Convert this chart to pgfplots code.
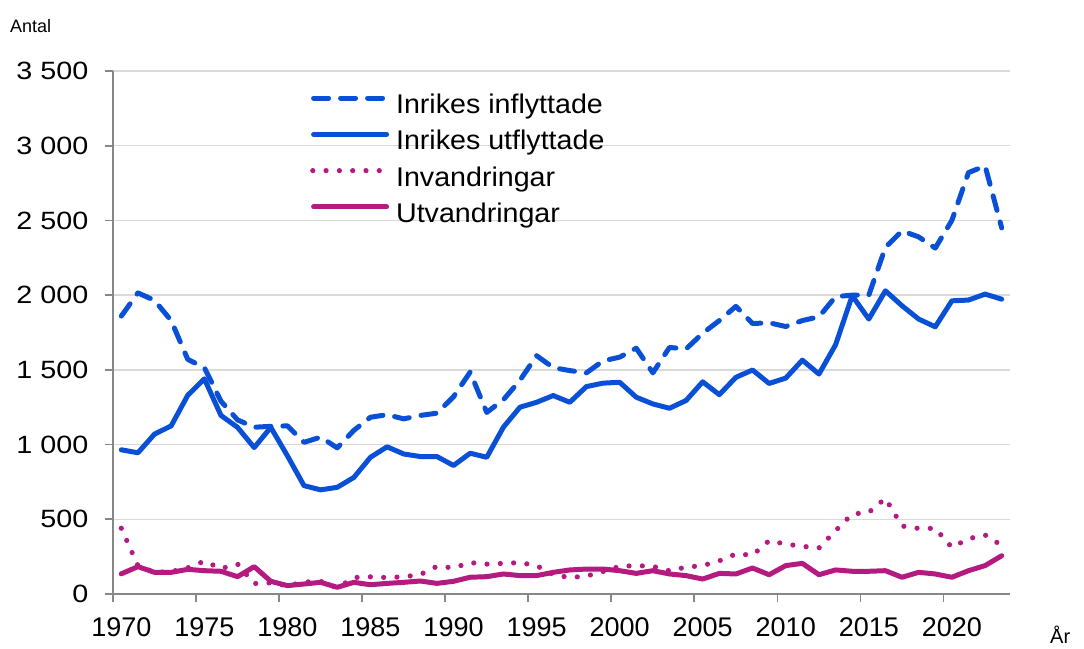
\documentclass[border=0pt]{standalone}
\usepackage{pgfplots}
\pgfplotsset{compat=1.18}
\usepackage{pgfplotstable}
\usepackage{fontspec}
\setmainfont{Liberation Sans}

\definecolor{scbblue}{RGB}{10,80,215}
\definecolor{scbmag}{RGB}{180,26,128}
\definecolor{gridgray}{RGB}{217,217,217}
\definecolor{axgray}{RGB}{135,135,135}

\pgfplotsset{
  legline/.style={legend image code/.code={\draw[##1] (2.5pt,9pt) -- (75.5pt,9pt);}},
  legdots/.style={legend image code/.code={\draw[##1] (1.7pt,9pt) -- (72pt,9pt);}},
}

\pgfplotstableread{
year inf utf inv utv
1970 1860 965 440 135
1971 2015 945 190 183
1972 1965 1070 145 145
1973 1830 1125 150 145
1974 1570 1330 175 165
1975 1515 1440 220 156
1976 1290 1195 170 152
1977 1165 1115 200 116
1978 1116 980 70 183
1979 1122 1115 75 85
1980 1125 925 55 56
1981 1015 725 80 67
1982 1050 697 85 78
1983 978 714 40 45
1984 1095 780 110 78
1985 1183 915 115 62
1986 1200 985 110 71
1987 1172 937 115 78
1988 1195 920 130 87
1989 1210 920 185 71
1990 1320 860 175 85
1991 1485 942 210 112
1992 1215 915 200 116
1993 1300 1116 205 134
1994 1430 1250 210 123
1995 1595 1283 190 123
1996 1515 1328 130 145
1997 1495 1283 110 161
1998 1480 1388 120 167
1999 1560 1411 150 167
2000 1585 1417 185 156
2001 1645 1317 190 138
2002 1480 1272 185 156
2003 1650 1243 155 134
2004 1640 1295 180 123
2005 1745 1420 190 100
2006 1830 1334 222 138
2007 1925 1450 268 134
2008 1810 1499 260 174
2009 1815 1409 357 129
2010 1790 1445 334 190
2011 1830 1565 319 205
2012 1855 1472 308 129
2013 1990 1668 424 161
2014 2000 1996 535 152
2015 2000 1840 546 152
2016 2320 2029 640 156
2017 2430 1929 455 112
2018 2390 1840 439 145
2019 2315 1788 439 134
2020 2500 1962 312 112
2021 2820 1967 370 156
2022 2865 2007 395 190
2023 2450 1973 325 256
}\data

\begin{document}
\begin{tikzpicture}
\useasboundingbox (0,0) rectangle (1084pt,648pt);
\begin{axis}[
  at={(113pt,54pt)}, anchor=south west,
  width=897pt, height=523pt, scale only axis,
  xmin=1969.5, xmax=2023.5, ymin=0, ymax=3500,
  axis x line*=bottom, axis y line*=left,
  axis line style={draw=axgray, line width=1.8pt, -},
  tick style={draw=axgray, line width=1.8pt},
  major tick length=7.5pt, tick align=outside,
  ymajorgrids, major grid style={draw=gridgray, line width=1.5pt},
  xtick={1969.5,1974.5,1979.5,1984.5,1989.5,1994.5,1999.5,2004.5,2009.5,2014.5,2019.5},
  xticklabels={1970,1975,1980,1985,1990,1995,2000,2005,2010,2015,2020},
  xticklabel style={font=\fontsize{27}{27}\selectfont, anchor=base, inner sep=0pt, xshift=8.3pt, yshift=-35pt},
  ytick={0,500,1000,1500,2000,2500,3000,3500},
  yticklabels={0,500,1 000,1 500,2 000,2 500,3 000,3 500},
  yticklabel style={font=\fontsize{25}{25}\selectfont\addfontfeature{FakeStretch=1.15}, anchor=east, inner sep=0pt, xshift=-17pt},
  legend cell align=left,
  legend style={at={(0.2196,0.9554)}, anchor=north west, draw=none, fill=none, inner sep=0pt,
    row sep=11.3pt, column sep=7pt, font=\fontsize{27}{27}\selectfont\addfontfeature{FakeStretch=1.06},
    nodes={inner sep=0pt, text height=19pt, text depth=6pt}},
  clip=false,
]
\addplot[scbblue, line width=5pt, line cap=round, line join=round, dash pattern=on 15pt off 12pt, legline]
  table[x=year,y=inf]{\data};
\addlegendentry{Inrikes inflyttade}
\addplot[scbblue, line width=5pt, line cap=round, line join=round, legline]
  table[x=year,y=utf]{\data};
\addlegendentry{Inrikes utflyttade}
\addplot[scbmag, line width=5.2pt, line cap=round, line join=round, dash pattern=on 0pt off 13.3pt, legdots]
  table[x=year,y=inv]{\data};
\addlegendentry{Invandringar}
\addplot[scbmag, line width=5pt, line cap=round, line join=round, legline]
  table[x=year,y=utv]{\data};
\addlegendentry{Utvandringar}
\end{axis}
\node[anchor=base west, inner sep=0pt, font=\fontsize{18}{18}\selectfont] at (10pt,615pt) {Antal};
\node[anchor=base west, inner sep=0pt, font=\fontsize{20}{20}\selectfont] at (1050pt,5pt) {År};
\end{tikzpicture}
\end{document}
